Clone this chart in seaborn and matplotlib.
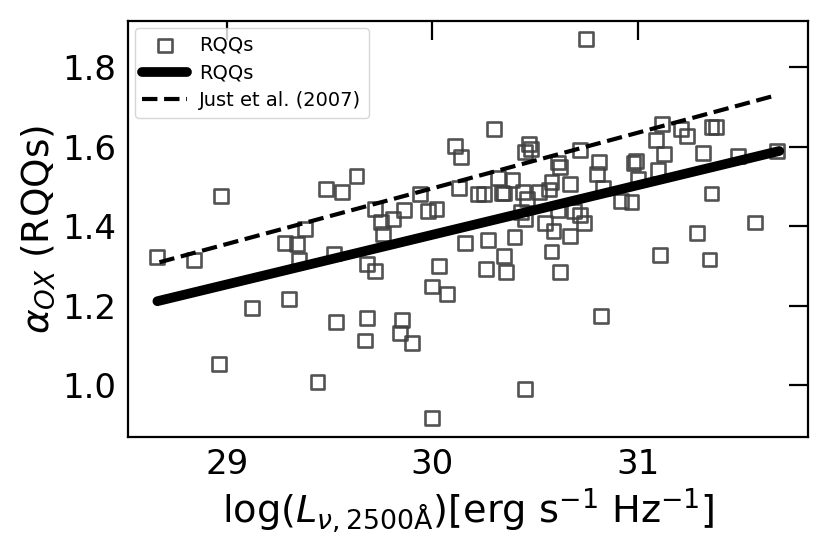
import matplotlib
matplotlib.use("Agg")
import matplotlib.pyplot as plt
import seaborn as sns
import pandas as pd

# RQQ sample
log_L2500 = [28.66, 28.84, 28.97, 28.96, 29.12, 29.28, 29.34, 29.35, 29.30, 29.38,
             29.44, 29.52, 29.53, 29.48, 29.56, 29.63, 29.72, 29.75, 29.81, 29.86,
             29.94, 29.98, 30.02, 30.11, 30.14, 30.13, 29.76, 29.68, 29.72, 29.68,
             29.67, 30.03, 30.00, 30.07, 29.85, 29.84, 29.90, 30.00, 30.16, 30.75,
             30.30, 30.47, 30.48, 30.45, 30.61, 30.62, 30.72, 30.81, 30.80, 30.99,
             30.98, 31.10, 31.09, 31.12, 31.13, 31.21, 31.24, 31.36, 31.38, 31.32,
             31.49, 31.68, 31.36, 31.57, 31.29, 31.11, 31.35, 30.82, 30.45, 30.27,
             30.40, 30.35, 30.26, 30.36, 30.58, 30.62, 30.59, 30.67, 30.45, 30.55,
             30.74, 30.72, 30.32, 30.39, 30.22, 30.25, 30.34, 30.35, 30.44, 30.46,
             30.52, 30.57, 30.58, 30.67, 30.83, 30.92, 30.97, 31.00, 30.43, 30.61,
             30.69]
alpha_ox = [1.322, 1.314, 1.476, 1.054, 1.194, 1.358, 1.354, 1.315, 1.216, 1.392,
            1.008, 1.331, 1.159, 1.493, 1.486, 1.526, 1.442, 1.411, 1.418, 1.440,
            1.481, 1.438, 1.443, 1.602, 1.574, 1.495, 1.379, 1.304, 1.286, 1.168,
            1.112, 1.299, 1.248, 1.230, 1.163, 1.132, 1.106, 0.917, 1.358, 1.870,
            1.645, 1.606, 1.593, 1.587, 1.560, 1.549, 1.591, 1.562, 1.532, 1.564,
            1.559, 1.541, 1.616, 1.658, 1.581, 1.645, 1.627, 1.650, 1.650, 1.583,
            1.577, 1.589, 1.482, 1.409, 1.383, 1.328, 1.316, 1.174, 0.991, 1.365,
            1.372, 1.325, 1.292, 1.285, 1.336, 1.285, 1.387, 1.375, 1.417, 1.407,
            1.407, 1.428, 1.520, 1.517, 1.480, 1.480, 1.484, 1.482, 1.485, 1.468,
            1.486, 1.492, 1.510, 1.506, 1.495, 1.463, 1.461, 1.518, 1.436, 1.440,
            1.439]

# fitted relation end points
fit_x = [28.66, 31.69]
fit_y = [1.211, 1.589]
# Just et al. (2007) relation end points
just_x = [28.67, 31.68]
just_y = [1.309, 1.730]

df = pd.DataFrame({"logL": log_L2500, "aox": alpha_ox})

sns.set_style("white", {"text.color": "black", "axes.labelcolor": "black",
                        "xtick.color": "black", "ytick.color": "black",
                        "axes.edgecolor": "black"})
plt.rcParams["font.family"] = ["DejaVu Sans"]
plt.rcParams["mathtext.fontset"] = "dejavusans"

fig = plt.figure(figsize=(8.3, 5.54), dpi=100)
ax = fig.add_axes([0.154, 0.211, 0.8195, 0.751])

sns.scatterplot(data=df, x="logL", y="aox", ax=ax, marker="s", s=100,
                facecolor="none", edgecolor="0.25", linewidth=1.9, alpha=0.9,
                label="RQQs")
sns.lineplot(x=fit_x, y=fit_y, ax=ax, color="black", linewidth=7, label="RQQs")
sns.lineplot(x=just_x, y=just_y, ax=ax, color="black", linewidth=3,
             linestyle="--", label="Just et al. (2007)")

ax.set_xlim(28.516, 31.83)
ax.set_ylim(0.869, 1.916)
ax.set_xticks([29, 30, 31])
ax.set_yticks([1.0, 1.2, 1.4, 1.6, 1.8])
ax.set_yticklabels(["1.0", "1.2", "1.4", "1.6", "1.8"])
ax.tick_params(direction="in", length=14, width=1.6, labelsize=24.5,
               top=True, right=True, pad=8)
for sp in ax.spines.values():
    sp.set_linewidth(1.6)

ax.set_xlabel(r"log($L_{\nu,\rm 2500\AA}$)[erg s$^{-1}$ Hz$^{-1}$]", fontsize=27.5)
ax.set_ylabel(r"$\alpha_{OX}$ (RQQs)", fontsize=27)

ax.legend(loc="upper left", fontsize=14, frameon=True, handlelength=2.3,
          handletextpad=0.6, borderaxespad=0.35, labelspacing=0.45)

fig.savefig("out.png", dpi=100)
